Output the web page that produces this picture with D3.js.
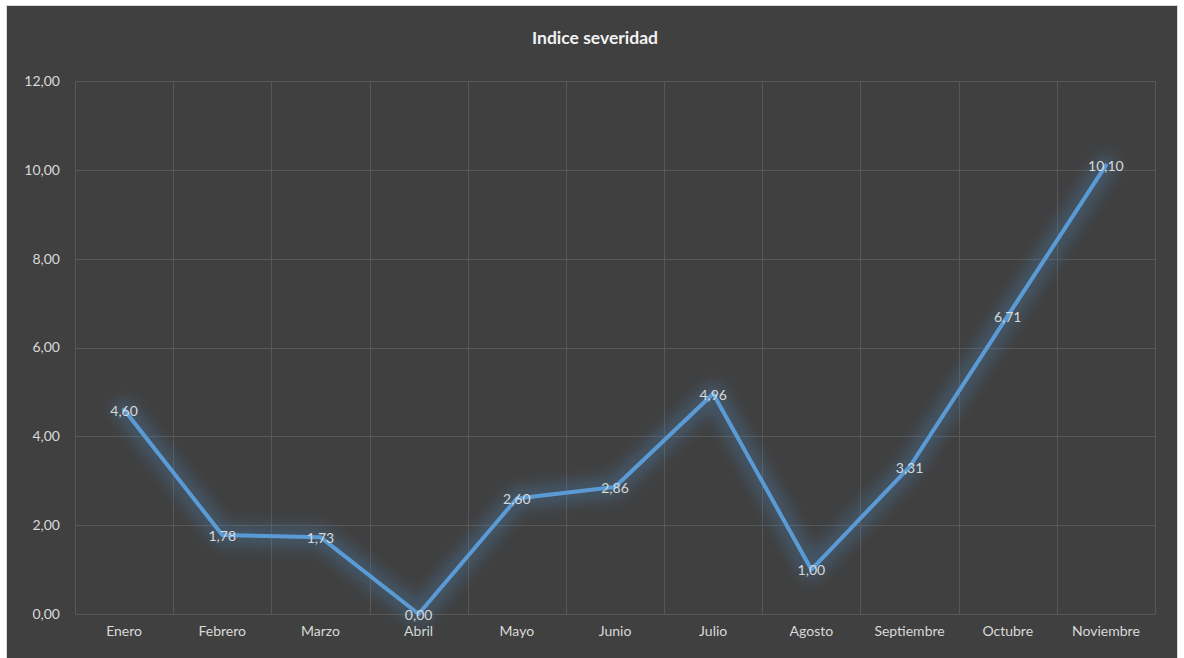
<!DOCTYPE html>
<html>
<head>
<meta charset="utf-8">
<script src="https://cdn.jsdelivr.net/npm/d3@7"></script>
<style>
  body { margin: 0; background: #ffffff; }
  text { font-family: "Lato", "Open Sans", sans-serif; }
</style>
</head>
<body>
<div id="chart"></div>
<script>
// data
var months = ["Enero", "Febrero", "Marzo", "Abril", "Mayo", "Junio", "Julio", "Agosto", "Septiembre", "Octubre", "Noviembre"];
var severity = [4.60, 1.78, 1.73, 0.00, 2.60, 2.86, 4.96, 1.00, 3.31, 6.71, 10.10];
var yTicks = [0, 2, 4, 6, 8, 10, 12];
var chartTitle = "Indice severidad";

var W = 1184, H = 658;
var margin = { top: 81, right: 29, bottom: 44, left: 75 };
var width = W - margin.left - margin.right;
var height = H - margin.top - margin.bottom;

var fmt = function(v) { return d3.format(".2f")(v).replace(".", ","); };

var svg = d3.select("#chart").append("svg")
  .attr("width", W)
  .attr("height", H);

// soft glow around the line
var defs = svg.append("defs");
var glow = defs.append("filter").attr("id", "glow")
  .attr("x", "-20%").attr("y", "-20%").attr("width", "140%").attr("height", "140%");
glow.append("feGaussianBlur").attr("stdDeviation", 7);

// chart background + border (bottom edge runs off the page)
svg.append("rect")
  .attr("x", 6.5).attr("y", 5.5)
  .attr("width", W - 13).attr("height", H + 10)
  .attr("fill", "#404040")
  .attr("stroke", "#d9d9d9")
  .attr("stroke-width", 1);

svg.append("text")
  .attr("x", W / 2 + 3)
  .attr("y", 44)
  .attr("text-anchor", "middle")
  .attr("fill", "#f2f2f2")
  .attr("font-size", 17.5)
  .attr("font-weight", "bold")
  .text(chartTitle);

var g = svg.append("g")
  .attr("transform", "translate(" + margin.left + "," + margin.top + ")");

var x = d3.scaleBand().domain(months).range([0, width]).padding(0);
var y = d3.scaleLinear().domain([0, 12]).range([height, 0]);

// horizontal grid
g.selectAll(".hgrid").data(yTicks).enter().append("line")
  .attr("class", "hgrid")
  .attr("x1", 0).attr("x2", width)
  .attr("y1", function(d) { return Math.round(y(d)) + 0.5; })
  .attr("y2", function(d) { return Math.round(y(d)) + 0.5; })
  .attr("stroke", "#575757")
  .attr("stroke-width", 1);

// vertical grid at category boundaries
var bounds = months.map(function(m) { return x(m); }).concat([width]);
g.selectAll(".vgrid").data(bounds).enter().append("line")
  .attr("class", "vgrid")
  .attr("x1", function(d) { return Math.round(d) + 0.5; })
  .attr("x2", function(d) { return Math.round(d) + 0.5; })
  .attr("y1", 0).attr("y2", height)
  .attr("stroke", "#575757")
  .attr("stroke-width", 1);

// y axis labels
var yAxis = g.append("g")
  .call(d3.axisLeft(y).tickValues(yTicks).tickFormat(fmt).tickSize(0).tickPadding(15));
yAxis.select(".domain").remove();
yAxis.selectAll("text")
  .attr("fill", "#d9d9d9")
  .attr("font-size", 14)
  .style("font-family", "Lato, 'Open Sans', sans-serif");

// x axis labels
var xAxis = g.append("g")
  .attr("transform", "translate(0," + height + ")")
  .call(d3.axisBottom(x).tickSize(0).tickPadding(12));
xAxis.select(".domain").remove();
xAxis.selectAll("text")
  .attr("fill", "#d9d9d9")
  .attr("font-size", 14)
  .style("font-family", "Lato, 'Open Sans', sans-serif");

var line = d3.line()
  .x(function(d, i) { return x(months[i]) + x.bandwidth() / 2; })
  .y(function(d) { return y(d); });

g.append("path")
  .datum(severity)
  .attr("d", line)
  .attr("fill", "none")
  .attr("stroke", "#4a8bc8")
  .attr("stroke-opacity", 0.28)
  .attr("stroke-width", 22)
  .attr("stroke-linejoin", "round")
  .attr("stroke-linecap", "round")
  .attr("filter", "url(#glow)");

g.append("path")
  .datum(severity)
  .attr("d", line)
  .attr("fill", "none")
  .attr("stroke", "#5b9bd5")
  .attr("stroke-width", 4)
  .attr("stroke-linejoin", "round")
  .attr("stroke-linecap", "round");

// data labels, centred on the points
g.selectAll(".lbl").data(severity).enter().append("text")
  .attr("class", "lbl")
  .attr("x", function(d, i) { return x(months[i]) + x.bandwidth() / 2; })
  .attr("y", function(d) { return y(d) + 1; })
  .attr("dy", "0.35em")
  .attr("text-anchor", "middle")
  .attr("fill", "#d9d9d9")
  .attr("font-size", 14)
  .text(fmt);
</script>
</body>
</html>
